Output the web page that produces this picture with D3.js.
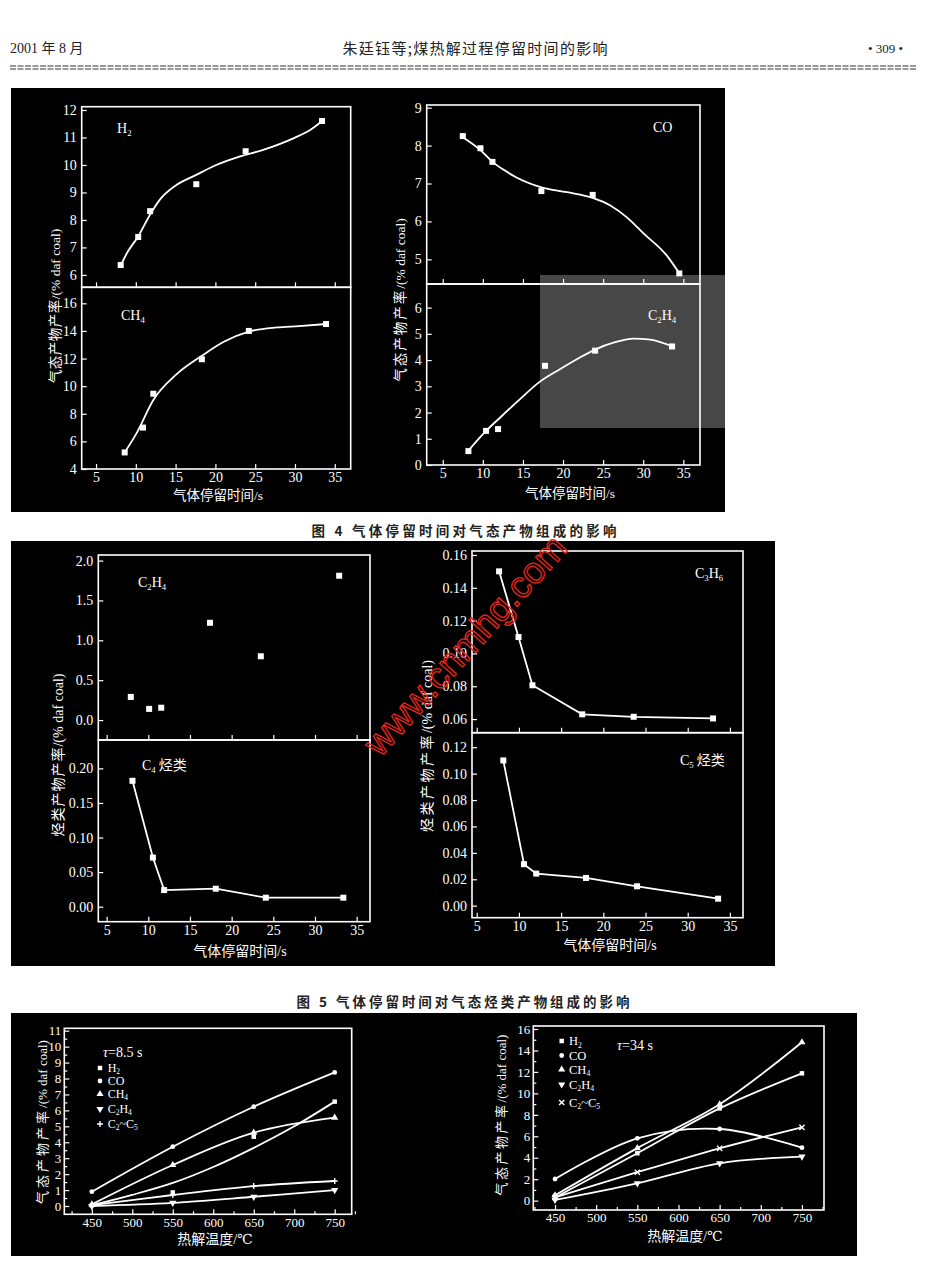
<!DOCTYPE html>
<html><head><meta charset="utf-8">
<script src="https://cdn.jsdelivr.net/npm/d3@7"></script>
<style>body{margin:0;background:#fff} svg{display:block}</style>
</head><body>
<svg id="page" width="927" height="1270"></svg>
<script>
// ---- Fig 4 : gas yields vs residence time (points + fitted curves)
var h2Time = [8.1, 10.3, 11.8, 17.6, 23.8, 33.4];
var h2Yield = [6.36, 7.38, 8.32, 9.3, 10.5, 11.6];
var h2FitTime = [8.1, 9, 10.3, 11.8, 13, 15.1, 17.6, 20.1, 23, 26, 29.8, 31.9, 33.4];
var h2FitYield = [6.35, 6.85, 7.4, 8.2, 8.73, 9.27, 9.64, 10.0, 10.3, 10.55, 10.97, 11.27, 11.6];

var ch4Time = [8.6, 10.9, 12.2, 18.3, 24.2, 33.9];
var ch4Yield = [5.2, 7.0, 9.45, 11.95, 14.0, 14.5];
var ch4FitTime = [8.6, 10.1, 12.2, 15.1, 18.3, 21, 24.2, 27.7, 30.5, 33.9];
var ch4FitYield = [5.2, 6.6, 9.0, 10.85, 12.2, 13.2, 13.95, 14.25, 14.35, 14.5];

var coTime = [7.5, 9.7, 11.2, 17.3, 23.7, 34.5];
var coYield = [8.25, 7.93, 7.57, 6.8, 6.7, 4.63];
var coFitTime = [7.5, 9.7, 11.2, 12.6, 14.2, 17.3, 20.5, 23.7, 25.9, 28, 30, 32.9, 34.5];
var coFitYield = [8.22, 7.88, 7.57, 7.36, 7.16, 6.9, 6.77, 6.62, 6.42, 6.1, 5.69, 5.11, 4.63];

var c2h4Time = [8.2, 10.4, 11.9, 17.75, 24.0, 33.6];
var c2h4Yield = [0.53, 1.3, 1.37, 3.78, 4.36, 4.52];
var c2h4FitTime = [8.2, 10.4, 12.3, 14.6, 17, 19.6, 22, 24, 26.5, 28.8, 30.9, 33.6];
var c2h4FitYield = [0.55, 1.3, 1.85, 2.5, 3.15, 3.65, 4.08, 4.4, 4.68, 4.82, 4.78, 4.52];

// ---- Fig 5 : hydrocarbon yields vs residence time
var c2h4bTime = [7.9, 10.1, 11.55, 17.4, 23.5, 32.9];
var c2h4bYield = [0.29, 0.14, 0.155, 1.22, 0.80, 1.81];
var c4Time = [8.1, 10.55, 11.9, 18.1, 24.1, 33.4];
var c4Yield = [0.182, 0.071, 0.024, 0.026, 0.013, 0.013];
var c3h6Time = [7.65, 9.95, 11.6, 17.5, 23.6, 33.0];
var c3h6Yield = [0.150, 0.110, 0.0806, 0.0629, 0.0614, 0.0604];
var c5Time = [8.15, 10.6, 12.05, 17.95, 24.0, 33.6];
var c5Yield = [0.110, 0.0314, 0.0243, 0.021, 0.0147, 0.0053];

// ---- Fig 6 : gas yields vs pyrolysis temperature
var temps = [450, 550, 650, 750];
var h2Fast = [0.05, 0.85, 4.35, 6.55];
var h2FastFitT = [450, 500, 550, 600, 650, 700, 750];
var h2FastFit = [0.05, 0.7, 1.45, 2.45, 3.65, 5.0, 6.55];
var coFast = [0.9, 3.72, 6.23, 8.38];
var ch4Fast = [0.1, 2.57, 4.6, 5.54];
var c2h4Fast = [0.0, 0.2, 0.58, 1.0];
var c2c5Fast = [0.05, 0.69, 1.25, 1.57];

var h2Slow = [0.3, 4.42, 8.6, 11.87];
var coSlow = [2.02, 5.81, 6.68, 4.94];
var ch4Slow = [0.5, 4.9, 8.98, 14.76];
var c2h4Slow = [0.07, 1.62, 3.48, 4.1];
var c2c5Slow = [0.3, 2.65, 4.88, 6.84];

var gasNames = ["H_2", "CO", "CH_4", "C_2H_4", "C_2~C_5"];
var timeTicks = [5, 10, 15, 20, 25, 30, 35];
var tempTicks = [450, 500, 550, 600, 650, 700, 750];

var svg = d3.select("#page");
var serif = "'Liberation Serif','DejaVu Serif',serif";
var cjk = "'Noto Sans CJK SC','Noto Sans',sans-serif";

// ---------- header
svg.append("text").attr("x", 10).attr("y", 53).attr("font-family", serif + "," + cjk)
    .attr("font-size", 14).attr("fill", "#222").text("2001 年 8 月");
svg.append("text").attr("x", 475).attr("y", 54).attr("text-anchor", "middle").attr("font-family", cjk)
    .attr("font-size", 15).attr("fill", "#222").attr("textLength", 265).text("朱廷钰等;煤热解过程停留时间的影响");
svg.append("text").attr("x", 868).attr("y", 53).attr("font-family", serif)
    .attr("font-size", 13).attr("fill", "#222").text("• 309 •");
[66, 69].forEach(function(yy){
    svg.append("line").attr("x1", 10).attr("x2", 917).attr("y1", yy).attr("y2", yy)
        .attr("stroke", "#999").attr("stroke-width", 2).attr("stroke-dasharray", "6,1.5");
});

// ---------- black plates
function plate(x0, y0, x1, y1){
    svg.append("rect").attr("x", x0).attr("y", y0).attr("width", x1 - x0).attr("height", y1 - y0).attr("fill", "#000");
}
plate(11, 88, 725, 512);
plate(11, 541, 775, 966);
plate(11, 1013, 857, 1256);

// ---------- helpers
function formula(t, str, fs){
    var shifted = false;
    str.split(/(_.)/).forEach(function(p){
        if (!p) return;
        if (p[0] === "_") {
            t.append("tspan").attr("font-size", fs * 0.62).attr("dy", shifted ? 0 : fs * 0.2).text(p[1]);
            shifted = true;
        } else {
            t.append("tspan").attr("dy", shifted ? -fs * 0.2 : 0)
                .attr("font-family", /[\u4e00-\u9fff]/.test(p) ? cjk : serif).text(p);
            shifted = false;
        }
    });
}
function label(x, y, str, fs){
    var t = svg.append("text").attr("x", x).attr("y", y).attr("fill", "#fff")
        .attr("font-family", serif).attr("font-size", fs);
    formula(t, str, fs);
    return t;
}
function yLabel(cx, cy, cn, en, fs, ls){
    var t = svg.append("text").attr("transform", "translate(" + cx + "," + cy + ") rotate(-90)")
        .attr("text-anchor", "middle").attr("dy", "0.35em").attr("fill", "#fff").attr("font-size", fs);
    t.append("tspan").attr("font-family", cjk).attr("letter-spacing", ls).text(cn);
    t.append("tspan").attr("font-family", serif).text(en);
}
function xLabel(cx, y, cn, en, fs){
    var t = svg.append("text").attr("x", cx).attr("y", y).attr("text-anchor", "middle")
        .attr("fill", "#fff").attr("font-size", fs);
    t.append("tspan").attr("font-family", cjk).text(cn);
    t.append("tspan").attr("font-family", serif).text(en);
}
function styleAxis(a, fs){
    a.select(".domain").remove();
    a.selectAll("line").attr("stroke", "#fff").attr("stroke-width", 1.2);
    a.selectAll("text").attr("fill", "#fff").attr("font-family", serif).attr("font-size", fs);
}
function panel(x, y, yTicks, fmt, xTicks, xFmt, fs, pad){
    var rx = x.range(), ry = y.range();
    svg.append("rect").attr("x", rx[0]).attr("y", ry[1]).attr("width", rx[1] - rx[0]).attr("height", ry[0] - ry[1])
        .attr("fill", "none").attr("stroke", "#fff").attr("stroke-width", 1.6);
    var ya = svg.append("g").attr("transform", "translate(" + rx[0] + ",0)")
        .call(d3.axisLeft(y).tickValues(yTicks).tickFormat(fmt).tickSize(-5).tickPadding(pad || 5));
    var xa = svg.append("g").attr("transform", "translate(0," + ry[0] + ")")
        .call(d3.axisBottom(x).tickValues(xTicks).tickFormat(xFmt).tickSize(-5).tickPadding(3));
    styleAxis(ya, fs);
    styleAxis(xa, fs);
}
function curve(x, y, xs, ys, kind){
    svg.append("path").datum(d3.zip(xs, ys))
        .attr("d", d3.line().x(function(d){ return x(d[0]); }).y(function(d){ return y(d[1]); }).curve(kind))
        .attr("fill", "none").attr("stroke", "#fff").attr("stroke-width", 1.8);
}
function squares(x, y, xs, ys, s){
    svg.append("g").selectAll("rect").data(d3.zip(xs, ys)).join("rect")
        .attr("x", function(d){ return x(d[0]) - s / 2; }).attr("y", function(d){ return y(d[1]) - s / 2; })
        .attr("width", s).attr("height", s).attr("fill", "#fff");
}

// ---------- Figure 4
var x4a = d3.scaleLinear().domain([3.2, 37]).range([81.7, 350.7]);
var y4h2 = d3.scaleLinear().domain([5.55, 12.12]).range([287.3, 106.7]);
var y4ch4 = d3.scaleLinear().domain([4, 17.16]).range([469, 287.3]);
panel(x4a, y4h2, d3.range(6, 13, 1), d3.format("d"), timeTicks, "", 14);
panel(x4a, y4ch4, d3.range(4, 17, 2), d3.format("d"), timeTicks, d3.format("d"), 14);
curve(x4a, y4h2, h2FitTime, h2FitYield, d3.curveMonotoneX);
squares(x4a, y4h2, h2Time, h2Yield, 6);
curve(x4a, y4ch4, ch4FitTime, ch4FitYield, d3.curveMonotoneX);
squares(x4a, y4ch4, ch4Time, ch4Yield, 6);
label(117, 133, "H_2", 14);
label(121, 320, "CH_4", 14);

var x4b = d3.scaleLinear().domain([3.0, 37.08]).range([426.7, 700]);
var y4co = d3.scaleLinear().domain([4.35, 9.07]).range([284, 105]);
var y4c2 = d3.scaleLinear().domain([0, 6.9]).range([465, 284]);
panel(x4b, y4co, d3.range(5, 10, 1), d3.format("d"), timeTicks, "", 14);
panel(x4b, y4c2, d3.range(0, 7, 1), d3.format("d"), timeTicks, d3.format("d"), 14);
curve(x4b, y4co, coFitTime, coFitYield, d3.curveMonotoneX);
squares(x4b, y4co, coTime, coYield, 6);
curve(x4b, y4c2, c2h4FitTime, c2h4FitYield, d3.curveMonotoneX);
squares(x4b, y4c2, c2h4Time, c2h4Yield, 6);
label(653, 132, "CO", 14);
label(648, 320, "C_2H_4", 14);

yLabel(55, 306, "气态产物产率", "/(% daf coal)", 13.5, 0.5);
yLabel(400, 300, "气态产物产率", "/(% daf coal)", 13.5, 2);
xLabel(218, 500, "气体停留时间", "/s", 13.5);
xLabel(570, 498, "气体停留时间", "/s", 13.5);

// watermark box over the C2H4 panel
svg.append("rect").attr("x", 540).attr("y", 275).attr("width", 186).attr("height", 153)
    .attr("fill", "#fff").attr("opacity", 0.28);

svg.append("text").attr("x", 464).attr("y", 536).attr("text-anchor", "middle").attr("font-family", cjk)
    .attr("font-size", 13.5).attr("font-weight", "bold").attr("fill", "#222")
    .attr("textLength", 305).attr("lengthAdjust", "spacing").text("图 4   气体停留时间对气态产物组成的影响");

// ---------- Figure 5
var x5a = d3.scaleLinear().domain([4.0, 36.6]).range([98.3, 370]);
var y5c2 = d3.scaleLinear().domain([-0.25, 2.07]).range([740, 555]);
var y5c4 = d3.scaleLinear().domain([-0.0217, 0.241]).range([921.7, 740]);
panel(x5a, y5c2, [0, 0.5, 1, 1.5, 2], d3.format(".1f"), timeTicks, "", 14);
panel(x5a, y5c4, [0, 0.05, 0.1, 0.15, 0.2], d3.format(".2f"), timeTicks, d3.format("d"), 14);
squares(x5a, y5c2, c2h4bTime, c2h4bYield, 6);
curve(x5a, y5c4, c4Time, c4Yield, d3.curveLinear);
squares(x5a, y5c4, c4Time, c4Yield, 6);
label(138, 587, "C_2H_4", 14);
label(142, 770, "C_4  烃类", 14);

var x5b = d3.scaleLinear().domain([4.44, 36.55]).range([472, 743]);
var y5c3 = d3.scaleLinear().domain([0.0517, 0.1624]).range([732.7, 551]);
var y5c5 = d3.scaleLinear().domain([-0.0091, 0.131]).range([917.7, 732.7]);
panel(x5b, y5c3, [0.06, 0.08, 0.1, 0.12, 0.14, 0.16], d3.format(".2f"), timeTicks, "", 14);
panel(x5b, y5c5, [0, 0.02, 0.04, 0.06, 0.08, 0.1, 0.12], d3.format(".2f"), timeTicks, d3.format("d"), 14);
curve(x5b, y5c3, c3h6Time, c3h6Yield, d3.curveLinear);
squares(x5b, y5c3, c3h6Time, c3h6Yield, 6);
curve(x5b, y5c5, c5Time, c5Yield, d3.curveLinear);
squares(x5b, y5c5, c5Time, c5Yield, 6);
label(695, 578, "C_3H_6", 14);
label(680, 765, "C_5  烃类", 14);

yLabel(58, 755, "烃类产物产率", "/(% daf coal)", 14, 1);
yLabel(427, 746, "烃类产物产率", "/(% daf coal)", 14, 2.5);
xLabel(240, 956, "气体停留时间", "/s", 14);
xLabel(610, 950, "气体停留时间", "/s", 14);

svg.append("text").attr("x", 463).attr("y", 1007).attr("text-anchor", "middle").attr("font-family", cjk)
    .attr("font-size", 13.5).attr("font-weight", "bold").attr("fill", "#222")
    .attr("textLength", 333).attr("lengthAdjust", "spacing").text("图 5   气体停留时间对气态烃类产物组成的影响");

// ---------- Figure 6
var sym = {
    sq: d3.symbol(d3.symbolSquare, 20)(),
    ci: d3.symbol(d3.symbolCircle, 18)(),
    tri: d3.symbol(d3.symbolTriangle, 22)(),
    plus: "M-3,0H3M0,-3V3",
    cross: "M-2.6,-2.6L2.6,2.6M-2.6,2.6L2.6,-2.6"
};
function marker(px, py, kind){
    var p = svg.append("path").attr("transform", "translate(" + px + "," + py + ")" + (kind === "down" ? " rotate(180)" : ""));
    if (kind === "plus" || kind === "cross") {
        p.attr("d", sym[kind]).attr("stroke", "#fff").attr("stroke-width", 1.4).attr("fill", "none");
    } else {
        p.attr("d", kind === "down" ? sym.tri : sym[kind]).attr("fill", "#fff");
    }
}
function tempPanel(x, y, yTicks, yMinor, series, kinds){
    panel(x, y, yTicks, d3.format("d"), tempTicks, d3.format("d"), 13, 3);
    var rx = x.range(), ry = y.range();
    var mx = svg.append("g").attr("transform", "translate(0," + ry[0] + ")")
        .call(d3.axisBottom(x).tickValues(d3.range(425, 776, 50)).tickSize(-3).tickFormat(""));
    var my = svg.append("g").attr("transform", "translate(" + rx[0] + ",0)")
        .call(d3.axisLeft(y).tickValues(yMinor).tickSize(-3).tickFormat(""));
    styleAxis(mx, 13); styleAxis(my, 13);
    series.forEach(function(s, i){
        curve(x, y, s.xs || temps, s.line || s.ys, d3.curveCatmullRom);
        s.ys.forEach(function(v, j){ marker(x(temps[j]), y(v), kinds[i]); });
    });
}

var x6a = d3.scaleLinear().domain([416, 771]).range([64.3, 351.7]);
var y6a = d3.scaleLinear().domain([-0.52, 11.15]).range([1214.3, 1028.3]);
tempPanel(x6a, y6a, d3.range(0, 12, 1), d3.range(0.5, 11, 1), [
    {ys: h2Fast, xs: h2FastFitT, line: h2FastFit},
    {ys: coFast}, {ys: ch4Fast}, {ys: c2h4Fast}, {ys: c2c5Fast}
], ["sq", "ci", "tri", "down", "plus"]);

var x6b = d3.scaleLinear().domain([423.6, 776.8]).range([533.3, 824]);
var y6b = d3.scaleLinear().domain([-0.87, 16.28]).range([1210, 1026]);
tempPanel(x6b, y6b, d3.range(0, 17, 2), d3.range(1, 16, 2), [
    {ys: h2Slow}, {ys: coSlow}, {ys: ch4Slow}, {ys: c2h4Slow}, {ys: c2c5Slow}
], ["sq", "ci", "tri", "down", "cross"]);

// legends
var legA = [1072, 1085, 1098, 1113, 1128];
var legB = [1045, 1059.5, 1073.5, 1088.5, 1106.5];
var kindsA = ["sq", "ci", "tri", "down", "plus"], kindsB = ["sq", "ci", "tri", "down", "cross"];
gasNames.forEach(function(n, i){
    marker(100, legA[i] - 4, kindsA[i]);
    label(107.7, legA[i], n, 12);
    marker(561.7, legB[i] - 4, kindsB[i]);
    label(569, legB[i], n, 12.5);
});
var tA = svg.append("text").attr("x", 103).attr("y", 1057).attr("fill", "#fff").attr("font-family", serif).attr("font-size", 14);
tA.append("tspan").attr("font-style", "italic").text("τ");
tA.append("tspan").text("=8.5 s");
var tB = svg.append("text").attr("x", 617).attr("y", 1050).attr("fill", "#fff").attr("font-family", serif).attr("font-size", 14);
tB.append("tspan").attr("font-style", "italic").text("τ");
tB.append("tspan").text("=34 s");

yLabel(42, 1122, "气态产物产率", "/(% daf coal)", 13, 3);
yLabel(501, 1115, "气态产物产率", "/(% daf coal)", 13, 2.5);
xLabel(215, 1244, "热解温度", "/℃", 14);
xLabel(685, 1241, "热解温度", "/℃", 14);

// red site watermark
svg.append("text").attr("transform", "translate(465,645) rotate(-47.9)")
    .attr("text-anchor", "middle").attr("dy", "0.35em")
    .attr("font-family", "'Liberation Sans',Arial,sans-serif").attr("font-size", 37)
    .attr("fill", "none").attr("stroke", "#e3241b").attr("stroke-width", 1.3)
    .attr("textLength", 282).attr("lengthAdjust", "spacingAndGlyphs").text("www.cnmhg.com");
</script>
</body></html>
